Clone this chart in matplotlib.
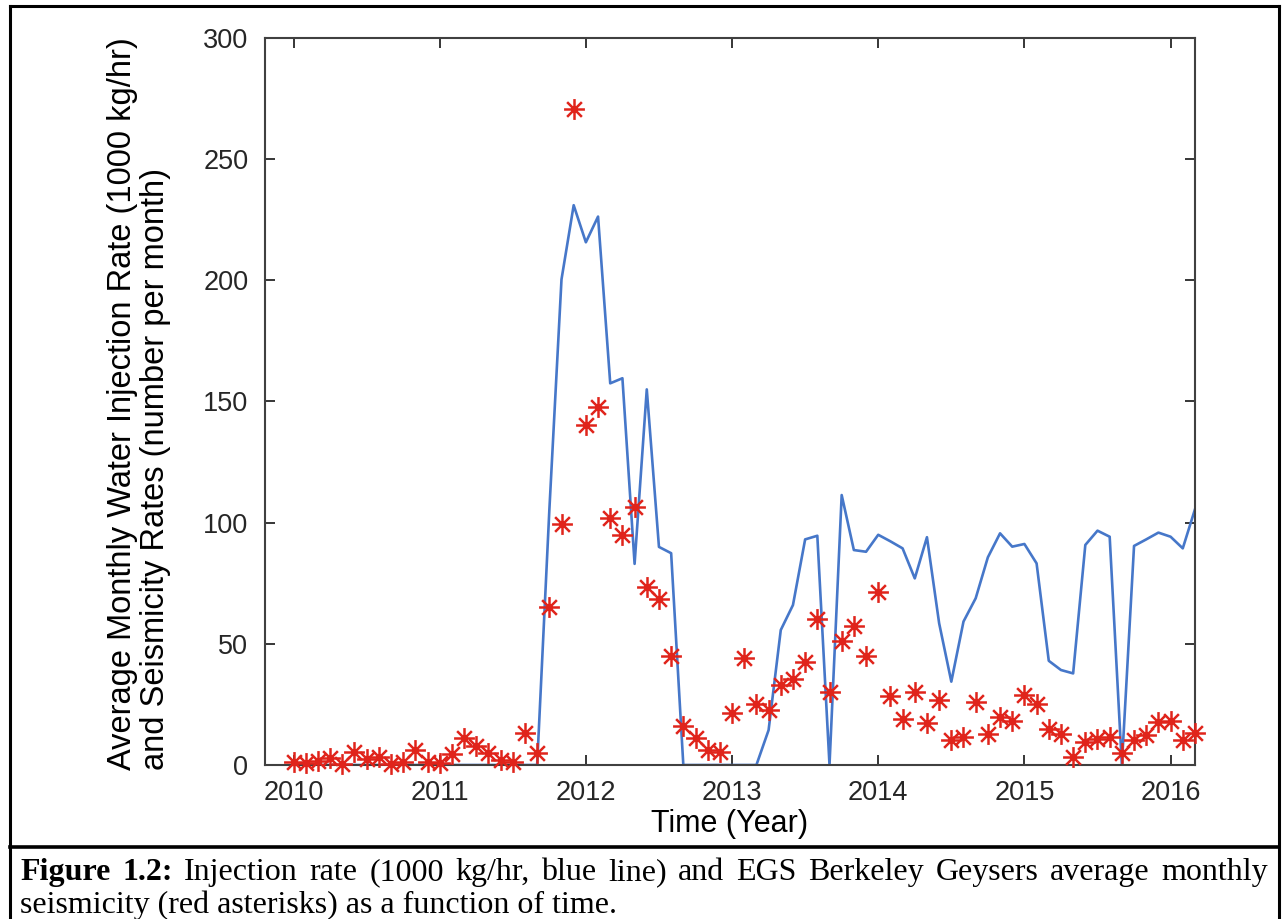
import matplotlib
matplotlib.use("Agg")
import matplotlib.pyplot as plt
import numpy as np
from matplotlib.path import Path
from matplotlib.lines import Line2D

# monthly data, Jan 2010 .. Mar 2016
n_months = 75
years = 2010 + np.arange(n_months) / 12.0

injection = [0]*21 + [
    105.0, 200.4, 231.0, 215.7, 226.3, 157.5, 159.6, 83.0, 155.0, 90.0, 87.4,
] + [0]*7 + [
    14.4, 55.7, 66.0, 93.1, 94.6, 0.0, 111.4, 88.7, 88.0, 95.0, 92.3, 89.4,
    77.0, 94.0, 58.5, 34.4, 59.2, 68.8, 85.7, 95.6, 90.1, 91.2, 83.2, 43.0,
    39.2, 37.8, 90.8, 96.7, 94.2, 0.0, 90.4, 93.1, 95.9, 94.2, 89.4, 105.5,
]

seismicity = [
    1.4, 0.7, 1.7, 2.8, 0.4, 5.5, 2.3, 3.4, 0.3, 1.4, 6.2, 1.4,
    1.0, 4.4, 11.3, 7.8, 5.1, 2.1, 1.4, 13.1, 5.1, 65.3, 99.5, 270.6,
    140.3, 147.6, 102.1, 94.9, 106.3, 73.3, 68.5, 45.1, 16.1, 11.0, 6.2, 5.5,
    21.3, 44.0, 25.2, 22.7, 33.0, 35.5, 42.6, 60.1, 30.3, 51.3, 57.5, 45.1,
    71.3, 28.5, 19.0, 30.3, 17.5, 26.8, 10.3, 11.7, 26.1, 12.8, 19.9, 18.3,
    28.9, 25.2, 14.7, 12.8, 3.4, 9.6, 10.6, 11.4, 4.8, 10.3, 12.4, 17.9,
    18.3, 10.3, 13.1,
]

year_ticks = [2010, 2011, 2012, 2013, 2014, 2015, 2016]
rate_ticks = [0, 50, 100, 150, 200, 250, 300]

# 8-spoke asterisk marker (open lines, like matlab '*')
c = np.sqrt(0.5)
ast_verts = [(-1, 0), (1, 0), (0, -1), (0, 1), (-c, -c), (c, c), (-c, c), (c, -c)]
ast_codes = [Path.MOVETO, Path.LINETO] * 4
asterisk = Path(ast_verts, ast_codes)

plt.rcParams['font.family'] = ['Liberation Sans', 'DejaVu Sans']

fig = plt.figure(figsize=(12.83, 9.19), dpi=100)
ax = fig.add_axes([265/1283, 1 - 765/919, 930/1283, 727/919])

ax.plot(years, injection, color='#4677c9', lw=1.9, zorder=2)
ax.plot(years, seismicity, ls='none', marker=asterisk, ms=15, mew=1.8,
        mec='#e0241b', mfc='none', zorder=3, clip_on=False)

ax.set_xlim(2009.805, 2016.167)
ax.set_ylim(0, 300)
ax.set_xticks(year_ticks)
ax.set_yticks(rate_ticks)
ax.tick_params(direction='in', length=7, width=1.3, top=True, right=True,
               labelsize=19.5, colors='#262626')
ax.tick_params(axis='y', pad=12)
ax.tick_params(axis='x', pad=11)
for s in ax.spines.values():
    s.set_color('#404040')
    s.set_linewidth(1.5)

ax.set_xlabel('Time (Year)', fontsize=22, labelpad=2)
fig.text(139/1283, 1 - 404/919,
         'Average Monthly Water Injection Rate (1000 kg/hr)\nand Seismicity Rates (number per month)',
         rotation=90, ha='center', va='center', multialignment='left',
         fontsize=23.5, linespacing=1.12)

# frame around the figure and the caption
lw_box = 2.2
fig.add_artist(Line2D([10/1283, 10/1283], [0, 1 - 6/919], color='black', lw=lw_box, transform=fig.transFigure))
fig.add_artist(Line2D([1279/1283, 1279/1283], [0, 1 - 6/919], color='black', lw=lw_box, transform=fig.transFigure))
fig.add_artist(Line2D([10/1283, 1279/1283], [1 - 6/919, 1 - 6/919], color='black', lw=lw_box, transform=fig.transFigure))
fig.add_artist(Line2D([10/1283, 1279/1283], [1 - 847/919, 1 - 847/919], color='black', lw=2.6, transform=fig.transFigure))

# caption, first line justified between the frame edges
serif = ['Liberation Serif', 'DejaVu Serif']
cap_size = 23
fig.canvas.draw()
renderer = fig.canvas.get_renderer()
words = [('Figure', 'bold'), ('1.2:', 'bold')] + [(w, 'normal') for w in
         'Injection rate (1000 kg/hr, blue line) and EGS Berkeley Geysers average monthly'.split()]
x0, x1 = 20, 1268
y1 = 1 - 880/919
artists = []
for w, wt in words:
    t = fig.text(0, y1, w, fontsize=cap_size, family=serif, weight=wt, va='baseline')
    artists.append(t)
widths = [t.get_window_extent(renderer).width for t in artists]
gap = (x1 - x0 - sum(widths)) / (len(words) - 1)
xpos = x0
for t, wd in zip(artists, widths):
    t.set_x(xpos / 1283)
    xpos += wd + gap

fig.text(20/1283, 1 - 913/919, 'seismicity (red asterisks) as a function of time.',
         fontsize=cap_size, family=serif, va='baseline')

fig.savefig('out.png', dpi=100)
